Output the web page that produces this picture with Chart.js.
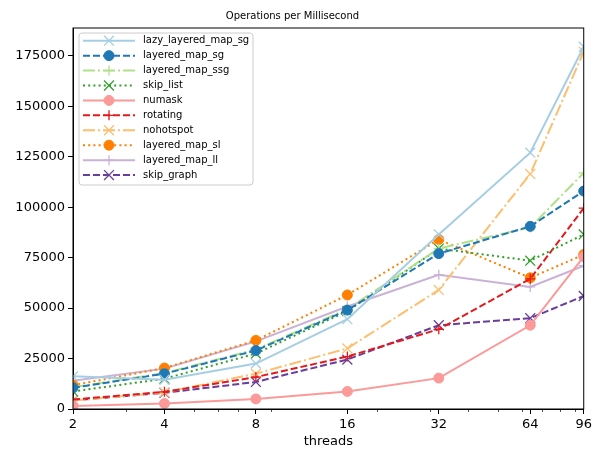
<!DOCTYPE html>
<html>
<head>
<meta charset="utf-8">
<script src="https://cdn.jsdelivr.net/npm/chart.js@4.4.1/dist/chart.umd.min.js"></script>
<style>
  html, body { margin: 0; padding: 0; background: #fff; }
  #wrap { width: 595px; height: 450px; }
</style>
</head>
<body>
<div id="wrap"><canvas id="myChart" width="595" height="450"></canvas></div>
<script>
// x values (threads) and tick positions
var threads = [2, 4, 8, 16, 32, 64, 96];
var majorTicks = [2, 4, 8, 16, 32, 64, 96];
var minorTicks = [3, 5, 6, 7, 9, 20, 30, 40, 50, 60, 70, 80, 90];
var yTicks = [0, 25000, 50000, 75000, 100000, 125000, 150000, 175000];

// ops per millisecond
var lazyLayeredMapSg = [16200, 14500, 22500, 44500, 86500, 127000, 179500];
var layeredMapSg     = [10500, 17500, 29000, 49000, 77000, 90500, 108000];
var layeredMapSsg    = [10800, 17800, 29500, 49500, 79500, 90000, 117000];
var skipList         = [8700, 15000, 27500, 48500, 79500, 73500, 86500];
var numask           = [1500, 2700, 5000, 8700, 15300, 41500, 75500];
var rotating         = [4700, 8500, 15800, 26000, 39500, 64500, 99500];
var nohotspot        = [4200, 8200, 17500, 30000, 59000, 116500, 177000];
var layeredMapSl     = [11800, 20300, 34000, 56500, 84000, 65000, 76500];
var layeredMapLl     = [14000, 20000, 33500, 50800, 66500, 60500, 71000];
var skipGraph        = [4300, 8000, 13400, 24500, 41500, 45000, 56000];

var names = ['lazy_layered_map_sg', 'layered_map_sg', 'layered_map_ssg', 'skip_list', 'numask',
             'rotating', 'nohotspot', 'layered_map_sl', 'layered_map_ll', 'skip_graph'];
var values = [lazyLayeredMapSg, layeredMapSg, layeredMapSsg, skipList, numask,
              rotating, nohotspot, layeredMapSl, layeredMapLl, skipGraph];
var colors = ['#a6cee3', '#1f78b4', '#b2df8a', '#33a02c', '#fb9a99',
              '#e31a1c', '#fdbf6f', '#ff7f00', '#cab2d6', '#6a3d9a'];

var SOLID = [], DASHED = [7, 3], DASHDOT = [12, 3, 2, 3], DOTTED = [2, 3.2];
var dashes = [SOLID, DASHED, DASHDOT, DOTTED, SOLID, DASHED, DASHDOT, DOTTED, SOLID, DASHED];
var markers = ['crossRot', 'circle', 'cross', 'crossRot', 'circle', 'cross', 'crossRot', 'circle', 'cross', 'crossRot'];

function markerRadius(m) { return m === 'circle' ? 5 : (m === 'cross' ? 5 : 7); }

var datasets = names.map(function (n, i) {
    return {
        label: n,
        data: threads.map(function (t, j) { return { x: t, y: values[i][j] }; }),
        borderColor: colors[i],
        backgroundColor: colors[i],
        borderWidth: 2,
        borderDash: dashes[i],
        pointStyle: markers[i],
        pointRadius: markerRadius(markers[i]),
        pointHoverRadius: markerRadius(markers[i]),
        pointBackgroundColor: colors[i],
        pointBorderColor: colors[i],
        pointBorderWidth: markers[i] === 'circle' ? 1 : 1.3,
        tension: 0,
        clip: 0
    };
});

// box round the plot, minor x ticks and the legend inside the plot
var framePlugin = {
    id: 'frame',
    afterDraw: function (chart) {
        var ctx = chart.ctx, a = chart.chartArea, xs = chart.scales.x;
        ctx.save();
        ctx.strokeStyle = '#000';
        ctx.lineWidth = 1;
        ctx.setLineDash([]);
        ctx.strokeRect(a.left, a.top, a.right - a.left, a.bottom - a.top);
        ctx.beginPath();
        minorTicks.forEach(function (v) {
            var px = Math.round(xs.getPixelForValue(v)) + 0.5;
            ctx.moveTo(px, a.bottom);
            ctx.lineTo(px, a.bottom + 3);
        });
        ctx.lineWidth = 0.7;
        ctx.stroke();

        // legend
        var bx = a.left + 6, by = a.top + 5, bw = 174, bh = 152, r = 3;
        ctx.beginPath();
        ctx.moveTo(bx + r, by);
        ctx.arcTo(bx + bw, by, bx + bw, by + bh, r);
        ctx.arcTo(bx + bw, by + bh, bx, by + bh, r);
        ctx.arcTo(bx, by + bh, bx, by, r);
        ctx.arcTo(bx, by, bx + bw, by, r);
        ctx.closePath();
        ctx.fillStyle = 'rgba(255,255,255,0.8)';
        ctx.fill();
        ctx.strokeStyle = '#cccccc';
        ctx.lineWidth = 1;
        ctx.stroke();

        ctx.font = '10px "DejaVu Sans"';
        ctx.textBaseline = 'middle';
        ctx.textAlign = 'left';
        chart.data.datasets.forEach(function (ds, i) {
            var cy = by + 7.7 + i * 14.93;
            ctx.strokeStyle = ds.borderColor;
            ctx.fillStyle = ds.borderColor;
            ctx.lineWidth = 2;
            ctx.setLineDash(ds.borderDash);
            ctx.beginPath();
            ctx.moveTo(bx + 4, cy);
            ctx.lineTo(bx + 56, cy);
            ctx.stroke();
            ctx.setLineDash([]);
            ctx.lineWidth = ds.pointBorderWidth;
            Chart.helpers.drawPoint(ctx, {
                pointStyle: ds.pointStyle,
                radius: ds.pointRadius,
                borderWidth: ds.pointBorderWidth,
                rotation: 0
            }, bx + 30, cy);
            ctx.fillStyle = '#000';
            ctx.fillText(ds.label, bx + 64, cy);
        });
        ctx.restore();
    }
};

var ctx = document.getElementById('myChart');
var myChart = new Chart(ctx, {
    type: 'line',
    data: { datasets: datasets },
    plugins: [framePlugin],
    options: {
        responsive: false,
        animation: false,
        layout: { padding: { left: 0, right: 10, top: 0, bottom: 0 } },
        plugins: {
            legend: { display: false },
            tooltip: { enabled: false },
            title: {
                display: true,
                text: 'Operations per Millisecond',
                color: '#000',
                font: { family: 'DejaVu Sans', size: 10, weight: 'normal' },
                padding: { top: 10, bottom: 6 }
            }
        },
        scales: {
            x: {
                type: 'logarithmic',
                min: 2,
                max: 96,
                afterBuildTicks: function (scale) {
                    scale.ticks = majorTicks.map(function (v) { return { value: v }; });
                },
                afterFit: function (scale) { scale.height = 41; },
                ticks: {
                    autoSkip: false,
                    maxRotation: 0,
                    padding: 3,
                    color: '#000',
                    font: { family: 'DejaVu Sans', size: 13 },
                    callback: function (v) { return String(v); }
                },
                grid: { drawOnChartArea: false, tickLength: 5, tickColor: '#000', tickWidth: 1 },
                border: { display: true, color: '#000', width: 1 },
                title: {
                    display: true,
                    text: 'threads',
                    color: '#000',
                    font: { family: 'DejaVu Sans', size: 13 },
                    padding: { top: 0, bottom: 1 }
                }
            },
            y: {
                type: 'linear',
                min: 0,
                max: 188800,
                afterBuildTicks: function (scale) {
                    scale.ticks = yTicks.map(function (v) { return { value: v }; });
                },
                afterFit: function (scale) { scale.width = 73; },
                ticks: {
                    padding: 3,
                    color: '#000',
                    font: { family: 'DejaVu Sans', size: 13 },
                    callback: function (v) { return String(v); }
                },
                grid: { drawOnChartArea: false, tickLength: 5, tickColor: '#000', tickWidth: 1 },
                border: { display: true, color: '#000', width: 1 }
            }
        }
    }
});
</script>
</body>
</html>
